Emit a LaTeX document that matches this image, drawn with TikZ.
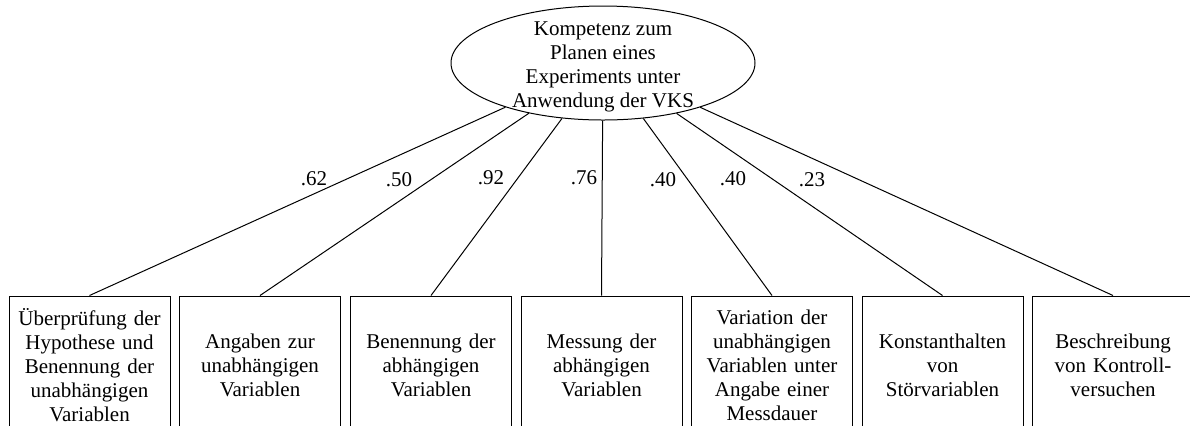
\documentclass[tikz,border=0pt]{standalone}
\usepackage{fontspec}
\setmainfont{Liberation Serif}
\usetikzlibrary{shapes.geometric}
\begin{document}
\begin{tikzpicture}[x=0.5pt,y=-0.5pt,
  every node/.style={font=\fontsize{10.5pt}{12pt}\selectfont},
  itembox/.style={draw, line width=0.5pt, minimum width=80.5pt, minimum height=69pt, inner sep=0pt, text width=76pt, align=center},
  link/.style={line width=0.5pt},
  lbl/.style={inner sep=0pt}]
\useasboundingbox (0,0) rectangle (1190,425);
\clip (0,0) rectangle (1190,425);
\node[ellipse, draw, line width=0.5pt, minimum width=152pt, minimum height=57pt, inner sep=0pt] (top) at (603,63) {};
\node[align=center, inner sep=0pt] (toptext) at (603,67) {Kompetenz zum\\Planen eines\\Experiments unter\\Anwendung der VKS};
\node[itembox] (b1) at (89.5,365) {Überprüfung der Hypothese und Benennung der unabhängigen Variablen};
\node[itembox] (b2) at (260,365) {Angaben zur\\unabhängigen\\Variablen};
\node[itembox] (b3) at (431,365) {Benennung der\\abhängigen\\Variablen};
\node[itembox] (b4) at (601.5,365) {Messung der\\abhängigen\\Variablen};
\node[itembox] (b5) at (772,365) {Variation der unabhängigen Variablen unter Angabe einer Messdauer};
\node[itembox] (b6) at (942.5,365) {Konstanthalten\\von\\Störvariablen};
\node[itembox] (b7) at (1113,365) {Beschreibung\\von Kontroll-\\versuchen};
\foreach \b in {b1,b2,b3,b4,b5,b6,b7} \draw[link] (top) -- (\b.north);
\node[lbl] (l1) at (314,179) {.62};
\node[lbl] (l2) at (399,180) {.50};
\node[lbl] (l3) at (491,178) {.92};
\node[lbl] (l4) at (584,178) {.76};
\node[lbl] (l5) at (663,180) {.40};
\node[lbl] (l6) at (733,179) {.40};
\node[lbl] (l7) at (812,180) {.23};
\end{tikzpicture}
\end{document}
